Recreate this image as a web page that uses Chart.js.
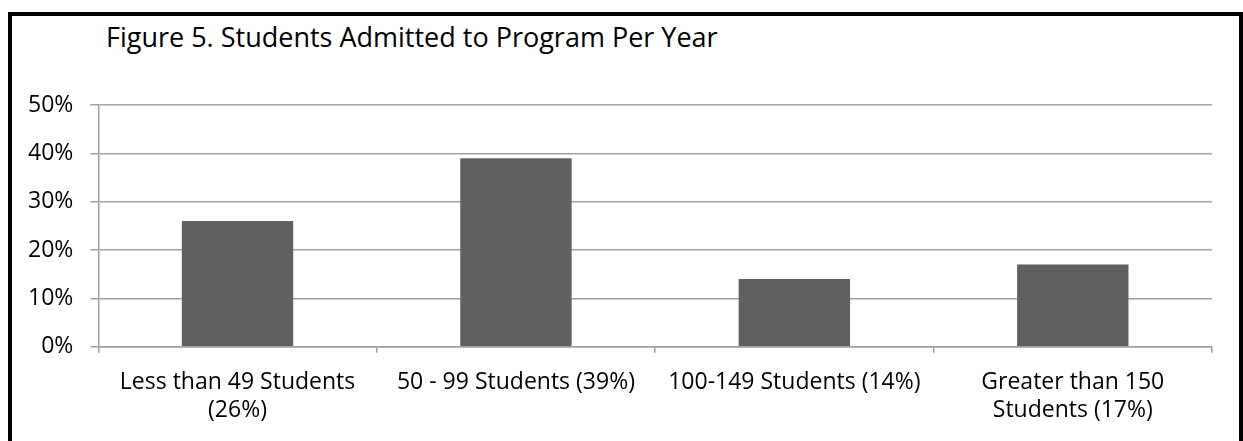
<!DOCTYPE html>
<html>
<head>
<meta charset="utf-8">
<script src="https://cdn.jsdelivr.net/npm/chart.js@4"></script>
<style>
    body { margin: 0; background: #fff; }
    #frame {
        position: absolute; left: 8px; top: 12px;
        width: 1235px; height: 460px;
        border: 4px solid #000; box-sizing: border-box;
    }
    #title {
        position: absolute; left: 106px; top: 23px;
        font-family: "Open Sans", sans-serif; font-size: 27px; line-height: 1; color: #000;
        white-space: nowrap;
    }
    #wrap { position: absolute; left: 0; top: 0; width: 1243px; height: 441px; }
</style>
</head>
<body>
<div id="frame"></div>
<div id="title">Figure 5. Students Admitted to Program Per Year</div>
<div id="wrap"><canvas id="chart"></canvas></div>
<script>
// Chart data
const categories = [
    ["Less than 49 Students", "(26%)"],
    "50 - 99 Students (39%)",
    "100-149 Students (14%)",
    ["Greater than 150", "Students (17%)"]
];
const shares = [0.26, 0.39, 0.14, 0.17];
const yTicks = [0, 0.1, 0.2, 0.3, 0.4, 0.5];

const labelFont = { family: "Open Sans", size: 23 };
const gridGray = "#a0a0a0";

const chartCanvas = document.getElementById("chart");

new Chart(chartCanvas, {
    type: "bar",
    data: {
        labels: categories,
        datasets: [{
            data: shares,
            backgroundColor: "#606060",
            barPercentage: 0.4,
            categoryPercentage: 1
        }]
    },
    options: {
        responsive: true,
        maintainAspectRatio: false,
        animation: false,
        layout: { padding: { left: 11, right: 31, top: 105, bottom: 1 } },
        plugins: {
            legend: { display: false },
            tooltip: { enabled: false }
        },
        scales: {
            x: {
                grid: { drawOnChartArea: false, tickLength: 6, color: gridGray, lineWidth: 1.5 },
                border: { color: gridGray, width: 1.5 },
                ticks: { color: "#000", font: labelFont, padding: 16, maxRotation: 0, autoSkip: false }
            },
            y: {
                min: yTicks[0],
                max: yTicks[yTicks.length - 1],
                afterBuildTicks: (axis) => {
                    axis.ticks = yTicks.map(v => ({ value: v }));
                },
                grid: { color: gridGray, lineWidth: 1.5, tickLength: 8 },
                border: { color: gridGray, width: 1.5 },
                ticks: {
                    color: "#000", font: labelFont, padding: 17,
                    callback: (v) => Math.round(v * 100) + "%"
                }
            }
        }
    }
});
</script>
</body>
</html>
